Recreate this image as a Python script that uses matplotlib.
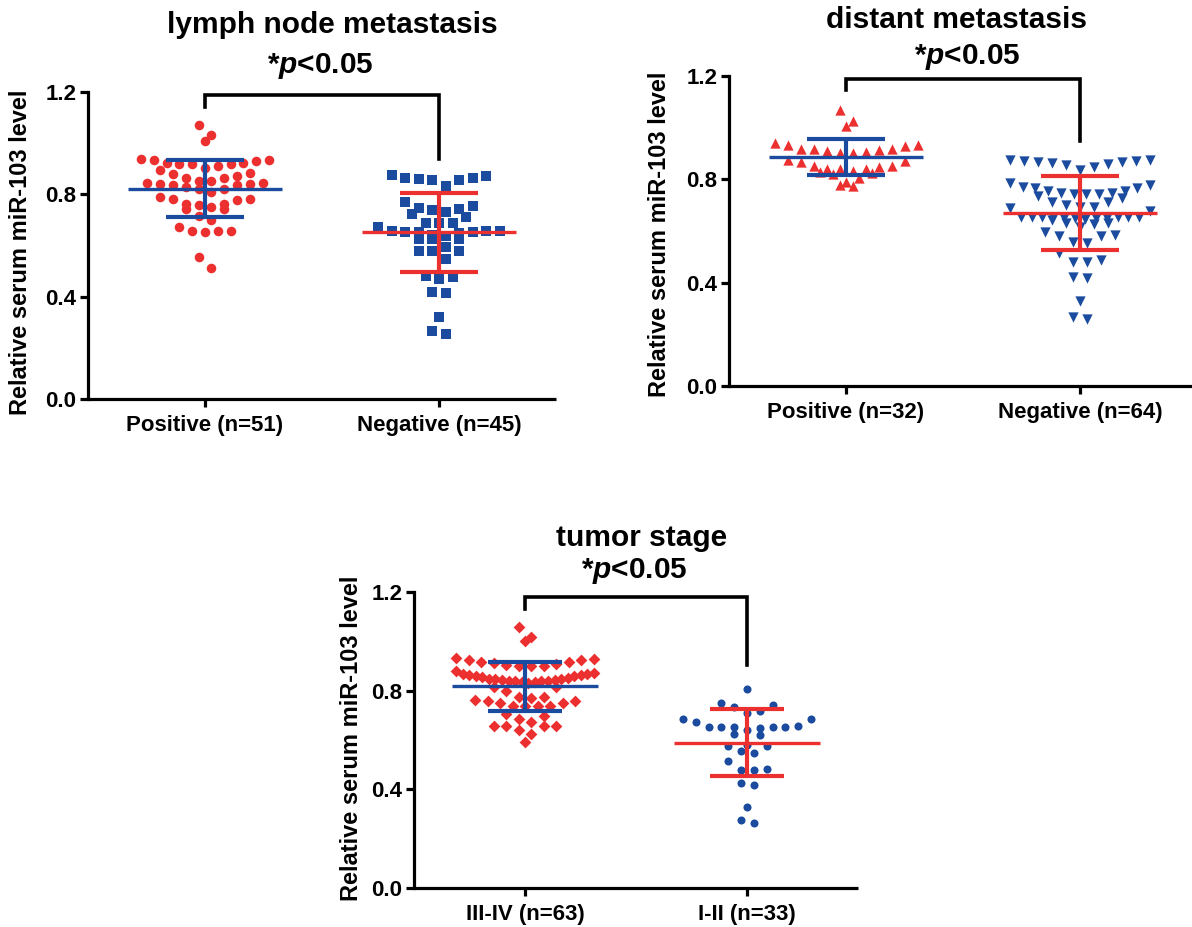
import matplotlib
matplotlib.use("Agg")
import matplotlib.pyplot as plt
import numpy as np

plt.rcParams['font.family'] = ['Liberation Sans', 'DejaVu Sans']
plt.rcParams['font.weight'] = 'bold'
plt.rcParams['mathtext.fontset'] = 'custom'
plt.rcParams['mathtext.it'] = 'Liberation Sans:italic:bold'
plt.rcParams['mathtext.rm'] = 'Liberation Sans:bold'
plt.rcParams['mathtext.bf'] = 'Liberation Sans:bold'

# ---------------- data ----------------
ylabel_text = "Relative serum miR-103 level"
p_text = "*$p$<0.05"
yticks = [0.0, 0.4, 0.8, 1.2]
ytick_labels = ["0.0", "0.4", "0.8", "1.2"]

# Panel 1: lymph node metastasis
title1 = "lymph node metastasis"
cats1 = ["Positive (n=51)", "Negative (n=45)"]
lymph_pos = [1.070, 1.030, 1.009,
             0.940, 0.934, 0.923, 0.917, 0.917, 0.901, 0.895, 0.910, 0.917, 0.921, 0.930, 0.934,
             0.882, 0.872, 0.862, 0.865, 0.878,
             0.853, 0.845, 0.842, 0.829, 0.819, 0.836, 0.836, 0.842, 0.845, 0.853, 0.819, 0.810,
             0.764, 0.760, 0.790, 0.781, 0.777, 0.781, 0.751, 0.764, 0.742, 0.741, 0.715, 0.699,
             0.656, 0.656, 0.652, 0.656, 0.673,
             0.556, 0.513]
lymph_neg = [0.871, 0.862, 0.855, 0.832, 0.855, 0.859, 0.865, 0.874,
             0.771, 0.738, 0.723, 0.745, 0.742, 0.754, 0.712, 0.732, 0.689, 0.686, 0.689,
             0.657, 0.655, 0.652, 0.647, 0.639, 0.626, 0.626, 0.626, 0.642, 0.652, 0.652, 0.655, 0.673,
             0.595, 0.578, 0.546, 0.577, 0.578,
             0.475, 0.471, 0.480,
             0.413, 0.419,
             0.322,
             0.254, 0.267]
lymph_mean = [0.822, 0.651]
lymph_sd = [0.112, 0.156]

# Panel 2: distant metastasis
title2 = "distant metastasis"
cats2 = ["Positive (n=32)", "Negative (n=64)"]
dist_pos = [1.068, 1.027, 1.008,
            0.933, 0.929, 0.916, 0.914, 0.907, 0.901, 0.903, 0.911, 0.916, 0.919, 0.932, 0.939,
            0.875, 0.867, 0.849, 0.830, 0.821, 0.839, 0.832, 0.839, 0.841, 0.823, 0.852, 0.871,
            0.804, 0.788, 0.775, 0.778, 0.850]
dist_neg = [0.875, 0.871, 0.867, 0.862, 0.855, 0.836, 0.849, 0.859, 0.867, 0.870, 0.875,
            0.787, 0.768, 0.765, 0.756, 0.748, 0.743, 0.746, 0.756, 0.769, 0.778,
            0.743, 0.726, 0.714, 0.694, 0.688, 0.679, 0.692, 0.701, 0.714, 0.735, 0.743,
            0.655, 0.655, 0.655, 0.652, 0.652, 0.650, 0.643, 0.630, 0.627, 0.630, 0.645, 0.652,
            0.655, 0.655, 0.655, 0.655,
            0.585, 0.582, 0.555, 0.559, 0.582, 0.597,
            0.514, 0.481, 0.481, 0.488,
            0.417, 0.423,
            0.330,
            0.258, 0.268,
            0.617]
dist_mean = [0.885, 0.671]
dist_sd = [0.070, 0.143]

# Panel 3: tumor stage
title3 = "tumor stage"
cats3 = ["III-IV (n=63)", "I-II (n=33)"]
stage_34 = [1.060, 1.019, 1.001,
            0.932, 0.925, 0.915, 0.911, 0.906, 0.902, 0.898, 0.902, 0.908, 0.915, 0.924, 0.927,
            0.869, 0.865, 0.859, 0.855, 0.849, 0.845, 0.840, 0.836, 0.834, 0.832, 0.838, 0.838,
            0.840, 0.842, 0.846, 0.849, 0.853, 0.858, 0.862, 0.869, 0.871, 0.878,
            0.816, 0.816,
            0.763, 0.760, 0.776, 0.772, 0.739, 0.737, 0.750, 0.737, 0.776, 0.739, 0.750, 0.760,
            0.686, 0.657, 0.655, 0.642, 0.655, 0.704, 0.655, 0.671, 0.697, 0.623, 0.591,
            0.800]
stage_12 = [0.807, 0.752, 0.743, 0.733, 0.710, 0.717, 0.686, 0.684,
            0.652, 0.651, 0.647, 0.623, 0.657, 0.620, 0.642, 0.651, 0.652, 0.653, 0.671,
            0.578, 0.576, 0.576, 0.554, 0.546,
            0.515, 0.479, 0.478, 0.484,
            0.417, 0.425,
            0.327,
            0.264, 0.275]
stage_mean = [0.818, 0.589]
stage_sd = [0.100, 0.136]

# ---------------- style ----------------
RED = "#EC2F2F"
BLUE = "#1A4B9E"
W, H = 1192, 927
fig = plt.figure(figsize=(W / 100, H / 100), dpi=100)


def row_offsets(vals, ax, h_px=11.5, sp_px=12.7, maxw_px=140):
    """Prism-like layout: group values into rows and spread each row horizontally."""
    bb = ax.get_window_extent()
    py = bb.height / 1.2
    px = bb.width / 2.0
    vals = np.asarray(vals, float)
    order = np.argsort(-vals, kind="stable")
    offs = np.zeros(len(vals))
    rows, cur, start = [], [], None
    for idx in order:
        v = vals[idx]
        if start is None or (start - v) * py < h_px:
            if start is None:
                start = v
            cur.append(idx)
        else:
            rows.append(cur)
            cur, start = [idx], v
    if cur:
        rows.append(cur)
    for r in rows:
        n = len(r)
        r_sorted = sorted(r, key=lambda k: vals[k])  # lowest in centre
        sp = sp_px if n < 2 else min(sp_px, maxw_px / (n - 1))
        if n % 2 == 1:
            slots = [0]
            k = 1
            while len(slots) < n:
                slots += [k, -k]
                k += 1
        else:
            slots = []
            k = 0.5
            while len(slots) < n:
                slots += [k, -k]
                k += 1
        for j, idx in enumerate(r_sorted):
            offs[idx] = slots[j] * sp / px
    return offs


def panel(rect, cats, groups, means, sds, markers, msizes, spacing, maxw, pcolors, bcolors,
          title, title_xy, p_xy, ylab_xy, bracket):
    l, r, t, b = rect
    ax = fig.add_axes([l / W, 1 - b / H, (r - l) / W, (b - t) / H])
    ax.set_xlim(-0.5, 1.5)
    ax.set_ylim(0, 1.2)
    for s in ["top", "right"]:
        ax.spines[s].set_visible(False)
    for s in ["left", "bottom"]:
        ax.spines[s].set_linewidth(2.3)
    ax.spines["bottom"].set_capstyle("butt")
    ax.set_yticks(yticks)
    ax.set_yticklabels(ytick_labels)
    ax.set_xticks([0, 1])
    ax.set_xticklabels(cats)
    ax.tick_params(axis="both", direction="out", length=5.5, width=2.3,
                   labelsize=16, pad=3)
    ax.tick_params(axis="x", pad=6)
    for lab in ax.get_xticklabels() + ax.get_yticklabels():
        lab.set_fontweight("bold")
    for i, vals in enumerate(groups):
        offs = row_offsets(vals, ax, sp_px=spacing[i], maxw_px=maxw[i])
        ax.scatter(i + offs, vals, marker=markers[i], s=msizes[i] ** 2,
                   color=pcolors[i], linewidths=0, zorder=2, clip_on=False)
        m, sd = means[i], sds[i]
        ax.plot([i - 0.33, i + 0.33], [m, m], color=bcolors[i], lw=2.4,
                solid_capstyle="butt", zorder=3)
        for yy in (m - sd, m + sd):
            ax.plot([i - 0.165, i + 0.165], [yy, yy], color=bcolors[i], lw=3.0,
                    solid_capstyle="butt", zorder=3)
        ax.plot([i, i], [m - sd, m + sd], color=bcolors[i], lw=3.0,
                solid_capstyle="butt", zorder=3)
    yl, yb, yr = bracket
    ax.plot([0, 0, 1, 1], [yl, yb, yb, yr], color="black", lw=2.6,
            solid_joinstyle="miter", clip_on=False, zorder=4)
    fig.text(title_xy[0] / W, 1 - title_xy[1] / H, title, ha="center", va="center",
             fontsize=21.5, fontweight="bold")
    fig.text(p_xy[0] / W, 1 - p_xy[1] / H, p_text, ha="center", va="center",
             fontsize=21.5, fontweight="bold")
    fig.text(ylab_xy[0] / W, 1 - ylab_xy[1] / H, ylabel_text, ha="center", va="center",
             rotation=90, fontsize=17, fontweight="bold")
    return ax


panel((88, 556, 92, 399), cats1, [lymph_pos, lymph_neg], lymph_mean, lymph_sd,
      ["o", "s"], [6.9, 7.1], [12.8, 13.5], [142, 156], [RED, BLUE], [BLUE, RED],
      title1, (332, 25), (320, 66), (21, 252), (1.14, 1.19, 0.94))

panel((729, 1197, 76, 386), cats2, [dist_pos, dist_neg], dist_mean, dist_sd,
      ["^", "v"], [7.4, 7.4], [13.0, 14.0], [145, 140], [RED, BLUE], [BLUE, RED],
      title2, (957, 20), (967, 57), (660, 234), (1.145, 1.188, 0.948))

panel((414, 858, 592, 888), cats3, [stage_34, stage_12], stage_mean, stage_sd,
      ["D", "o"], [6.0, 5.8], [12.5, 13.0], [138, 128], [RED, BLUE], [BLUE, RED],
      title3, (642, 538), (634, 571), (351, 738), (1.131, 1.18, 0.904))

fig.savefig("out.png", dpi=100)
